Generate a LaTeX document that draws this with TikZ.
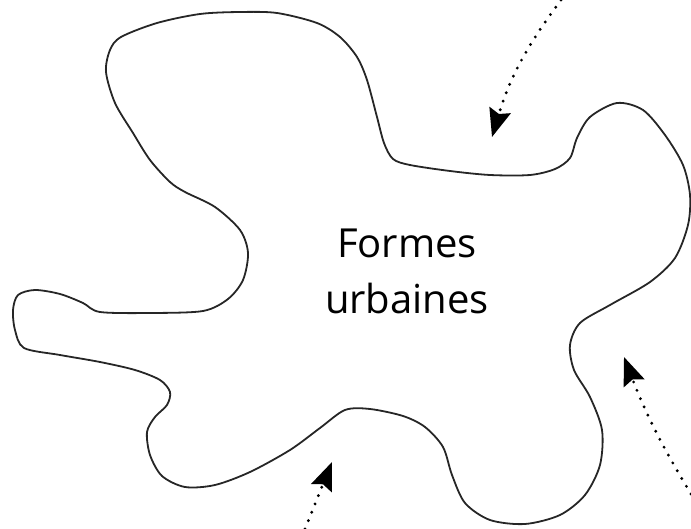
\documentclass[tikz,border=0pt]{standalone}
\usepackage{fontspec}
\setmainfont{Open Sans}
\usetikzlibrary{arrows.meta}

\begin{document}
\begin{tikzpicture}[x=1pt,y=-1pt,
    outline/.style={line width=1.8pt,line join=round,draw=black!85},
    flux/.style={line width=3.2pt,line cap=round,dash pattern=on 0pt off 9pt,
      -{Stealth[length=28pt,width=22pt,inset=4pt]}}]

    \useasboundingbox (0,0) rectangle (691,529);

    % contour of the urban form
    \draw[outline] plot[smooth cycle,tension=0.5] coordinates {
      (170,182) (150,160) (133,133) (115,103) (106,72) (110,50) (121,37)
      (157,23) (200,14) (240,12) (277,13) (317,23) (340,37) (357,57)
      (367,80) (377,117) (384,143) (393,159) (410,165) (450,171) (490,175)
      (530,175) (555,169) (570,158) (577,138) (590,117) (617,103) (643,110)
      (665,135) (683,165) (690,195) (688,225) (675,258) (650,282) (610,305)
      (580,323) (570,345) (574,370) (590,397) (602,430) (600,465) (585,495)
      (560,515) (525,524) (490,520) (465,503) (452,475) (443,447) (425,427)
      (403,416) (370,409) (345,410) (320,428) (290,450) (250,472) (215,485)
      (185,487) (162,476) (150,455) (147,432) (155,417) (167,405) (170,392)
      (160,380) (135,370) (100,362) (60,355) (24,348) (15,330) (13,310)
      (18,295) (35,290) (60,294) (83,303) (100,312) (150,313) (203,311)
      (228,299) (243,280) (248,253) (240,230) (215,207) (185,192)};

    \node[font=\fontsize{40}{56}\selectfont,align=center,inner sep=0pt]
    (FormesUrbaines) at (407,271) {Formes\\urbaines};

    % influences from outside
    \coordinate (TopFluxStart) at (561,0);
    \coordinate (TopFluxEnd) at (492,137);
    \coordinate (RightFluxStart) at (691,494);
    \coordinate (RightFluxEnd) at (624,357);
    \coordinate (BotFluxStart) at (305,529);
    \coordinate (BotFluxEnd) at (332,462);

    \draw[flux] (TopFluxStart) to[bend right=10] (TopFluxEnd);
    \draw[flux] (RightFluxStart) to[bend left=5] (RightFluxEnd);
    \draw[flux] (BotFluxStart) -- (BotFluxEnd);

  \end{tikzpicture}
\end{document}
